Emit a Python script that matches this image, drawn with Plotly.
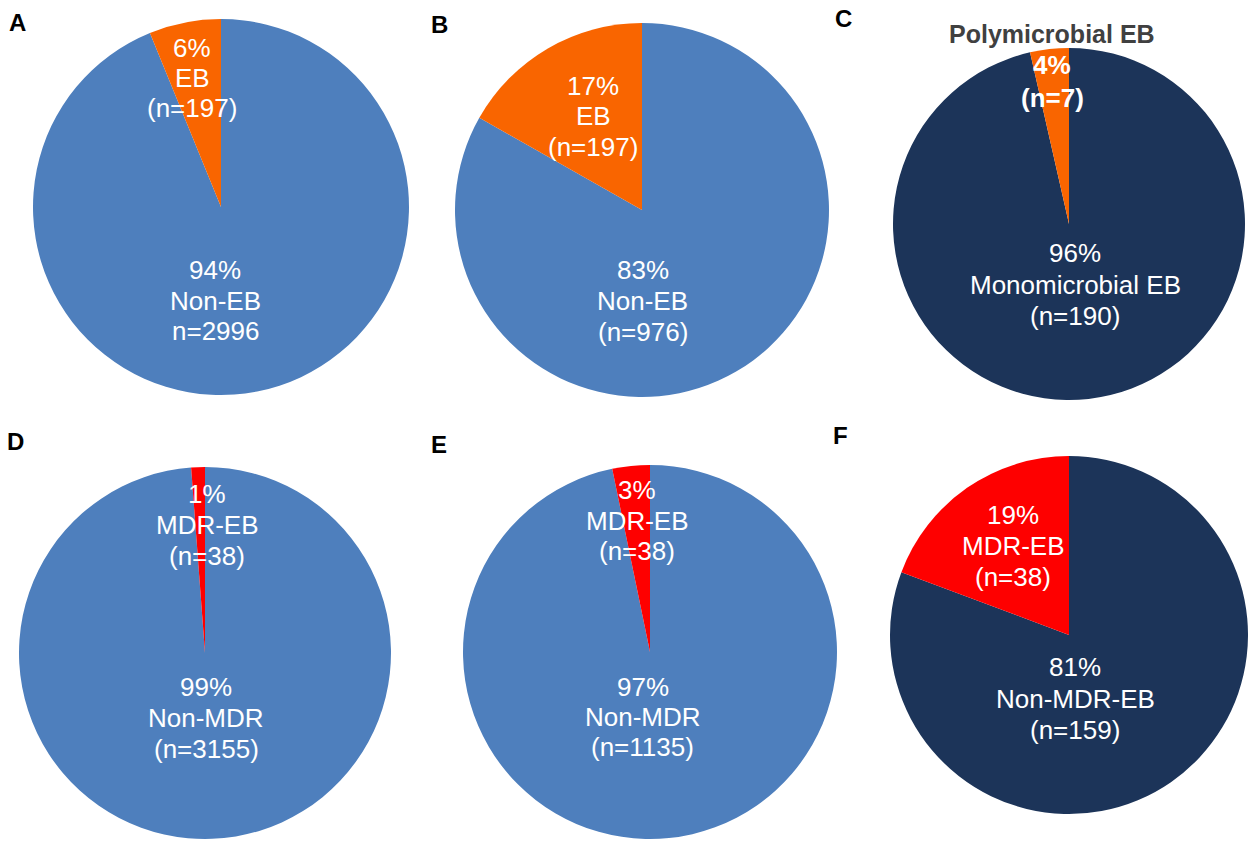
import plotly.graph_objects as go

# ---- data ----
panels = ["A", "B", "C", "D", "E", "F"]
minor_names = ["EB", "EB", "", "MDR-EB", "MDR-EB", "MDR-EB"]
major_names = ["Non-EB", "Non-EB", "Monomicrobial EB", "Non-MDR", "Non-MDR", "Non-MDR-EB"]
minor_counts = [197, 197, 7, 38, 38, 38]
major_counts = [2996, 976, 190, 3155, 1135, 159]
major_count_parens = [False, True, True, True, True, True]
panel_c_title = "Polymicrobial EB"

# ---- styling ----
W, H = 1248, 843
BLUE = "#4E7FBD"
ORANGE = "#F96500"
NAVY = "#1C3459"
RED = "#FE0000"
FONT = "Liberation Sans, Arial, Helvetica, sans-serif"

minor_colors = [ORANGE, ORANGE, ORANGE, RED, RED, RED]
major_colors = [BLUE, BLUE, NAVY, BLUE, BLUE, NAVY]

# pie centre (px) and radius (px)
geom = [
    (221, 207, 188),
    (642, 210, 187),
    (1069, 224, 176),
    (205, 653, 186),
    (650, 652, 187),
    (1069, 635, 179),
]
# label anchor (x, y of first line) for minor and major slices, line pitch
minor_pos = [(192, 48), (593, 86), (1052, 65), (207, 494), (637, 490), (1013, 515)]
major_pos = [(215, 270), (643, 270), (1075, 253), (206, 687), (643, 687), (1075, 667)]
pitch_minor = [30, 30.5, 33, 31, 30.5, 31]
pitch_major = [30.5, 31, 31.5, 31, 30, 31.5]
letter_pos = [(17, 22), (439, 24), (843, 18), (15, 441), (439, 444), (840, 435)]

fig = go.Figure()
annotations = []


def px_ann(x, y, text, size=26, color="white", bold=False):
    if bold:
        text = f"<b>{text}</b>"
    annotations.append(dict(
        x=x / W, y=1 - y / H, xref="paper", yref="paper",
        text=text, showarrow=False, xanchor="center", yanchor="middle",
        font=dict(family=FONT, size=size, color=color),
    ))


for i, p in enumerate(panels):
    cx, cy, r = geom[i]
    x0, x1 = max(cx - r, 0) / W, min(cx + r, W) / W
    y0, y1 = 1 - (cy + r) / H, 1 - (cy - r) / H
    # larger share first, running clockwise from 12 o'clock, so the
    # smaller share ends at 12 o'clock on the left-hand side
    vals = [major_counts[i], minor_counts[i]]
    fig.add_trace(go.Pie(
        values=vals,
        labels=[major_names[i], minor_names[i] or panel_c_title],
        marker=dict(colors=[major_colors[i], minor_colors[i]], line=dict(width=0)),
        sort=False, direction="clockwise", rotation=0,
        textinfo="none", hoverinfo="label+value+percent",
        showlegend=False,
        domain=dict(x=[x0, x1], y=[y0, y1]),
    ))

    total = sum(vals)
    pct_minor = round(100 * minor_counts[i] / total)
    pct_major = round(100 * major_counts[i] / total)

    # minor slice label
    mx, my = minor_pos[i]
    lines = [f"{pct_minor}%"]
    if minor_names[i]:
        lines.append(minor_names[i])
    lines.append(f"(n={minor_counts[i]})")
    bold_minor = (p == "C")
    for k, t in enumerate(lines):
        px_ann(mx, my + k * pitch_minor[i], t, bold=bold_minor)

    # major slice label
    Mx, My = major_pos[i]
    n_txt = f"(n={major_counts[i]})" if major_count_parens[i] else f"n={major_counts[i]}"
    for k, t in enumerate([f"{pct_major}%", major_names[i], n_txt]):
        px_ann(Mx, My + k * pitch_major[i], t)

    # panel letter
    lx, ly = letter_pos[i]
    px_ann(lx, ly, p, size=24, color="black", bold=True)

# panel C heading
px_ann(1052, 34, panel_c_title, size=25, color="#404040", bold=True)

fig.update_layout(
    width=W, height=H,
    margin=dict(l=0, r=0, t=0, b=0),
    paper_bgcolor="white", plot_bgcolor="white",
    annotations=annotations,
)

fig.write_html("out.html")
